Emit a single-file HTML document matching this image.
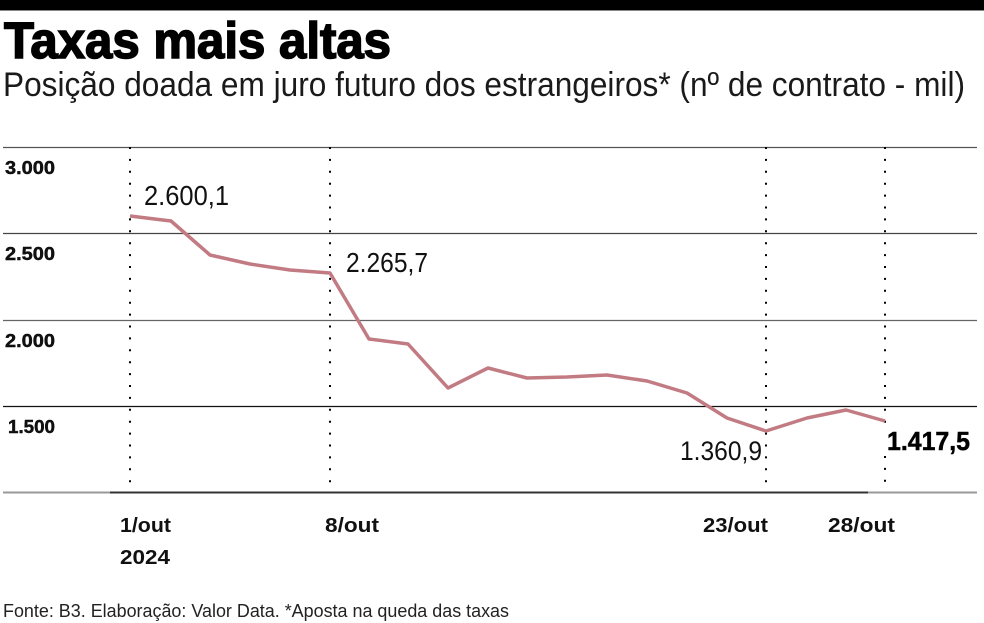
<!DOCTYPE html>
<html><head><meta charset="utf-8"><style>
html,body{margin:0;padding:0;background:#fff;}
svg{display:block;}
text{font-family:"Liberation Sans",Arial,sans-serif;fill:#111;}
.b{font-weight:bold;}
</style></head><body>
<svg width="984" height="623" viewBox="0 0 984 623" xmlns="http://www.w3.org/2000/svg">
<rect x="0" y="0" width="984" height="10" fill="#000"/>
<line x1="0" y1="10.5" x2="984" y2="10.5" stroke="#888" stroke-width="1"/>
<text class="b" x="4" y="58" font-size="51" textLength="387" lengthAdjust="spacingAndGlyphs" style="fill:#000;stroke:#000;stroke-width:1.6">Taxas mais altas</text>
<text x="3" y="96" font-size="34" textLength="962" lengthAdjust="spacingAndGlyphs" style="fill:#1a1a1a">Posição doada em juro futuro dos estrangeiros* (nº de contrato - mil)</text>

<!-- gridlines -->
<line x1="3" y1="147.5" x2="977" y2="147.5" stroke="#555" stroke-width="1.2"/>
<line x1="3" y1="233.5" x2="977" y2="233.5" stroke="#444" stroke-width="1.2"/>
<line x1="3" y1="320.5" x2="977" y2="320.5" stroke="#666" stroke-width="1.2"/>
<line x1="3" y1="406.5" x2="977" y2="406.5" stroke="#111" stroke-width="1.2"/>
<line x1="3" y1="492.5" x2="110" y2="492.5" stroke="#999" stroke-width="2"/>
<line x1="110" y1="492.5" x2="868" y2="492.5" stroke="#333" stroke-width="2"/>
<line x1="868" y1="492.5" x2="977" y2="492.5" stroke="#999" stroke-width="2"/>

<!-- dotted verticals -->
<g stroke="#000" stroke-width="2" stroke-dasharray="2 9.9">
<line x1="130" y1="147" x2="130" y2="484"/>
<line x1="330" y1="147" x2="330" y2="484"/>
<line x1="766" y1="147" x2="766" y2="484"/>
<line x1="885" y1="147" x2="885" y2="426"/>
<line x1="885" y1="456" x2="885" y2="484"/>
</g>

<!-- y labels -->
<g style="stroke:#000;stroke-width:0.4">
<text class="b" x="5" y="174" font-size="18" textLength="50" lengthAdjust="spacingAndGlyphs">3.000</text>
<text class="b" x="5" y="260" font-size="18" textLength="50" lengthAdjust="spacingAndGlyphs">2.500</text>
<text class="b" x="5" y="347" font-size="18" textLength="50" lengthAdjust="spacingAndGlyphs">2.000</text>
<text class="b" x="8" y="433" font-size="18" textLength="47" lengthAdjust="spacingAndGlyphs">1.500</text>
</g>

<!-- series -->
<polyline fill="none" stroke="#c27b83" stroke-width="3.5" stroke-linejoin="round" points="130,216 171,221 210,255 250,264 290,270 330,273 369,339 408,344 448,388 488,368 527,378 567,377 607,375 647,381 687,393 727,418 766,431 807,418 846,410 885,421"/>

<!-- annotations -->
<text x="144" y="205" font-size="28" textLength="85" lengthAdjust="spacingAndGlyphs">2.600,1</text>
<text x="346" y="272" font-size="28" textLength="82" lengthAdjust="spacingAndGlyphs">2.265,7</text>
<text x="680" y="460" font-size="27" textLength="82" lengthAdjust="spacingAndGlyphs">1.360,9</text>
<text class="b" x="887" y="450" font-size="26" textLength="83" lengthAdjust="spacingAndGlyphs" style="fill:#000;stroke:#000;stroke-width:0.5">1.417,5</text>

<!-- x labels -->
<text class="b" x="120" y="532" font-size="20" textLength="51" lengthAdjust="spacingAndGlyphs">1/out</text>
<text class="b" x="120" y="564" font-size="20" textLength="50" lengthAdjust="spacingAndGlyphs">2024</text>
<text class="b" x="325" y="532" font-size="20" textLength="54" lengthAdjust="spacingAndGlyphs">8/out</text>
<text class="b" x="703" y="532" font-size="20" textLength="65" lengthAdjust="spacingAndGlyphs">23/out</text>
<text class="b" x="828" y="532" font-size="20" textLength="67" lengthAdjust="spacingAndGlyphs">28/out</text>

<!-- footer -->
<text x="3" y="617" font-size="18" textLength="506" lengthAdjust="spacingAndGlyphs" style="fill:#222">Fonte: B3. Elaboração: Valor Data. *Aposta na queda das taxas</text>
</svg>
</body></html>
